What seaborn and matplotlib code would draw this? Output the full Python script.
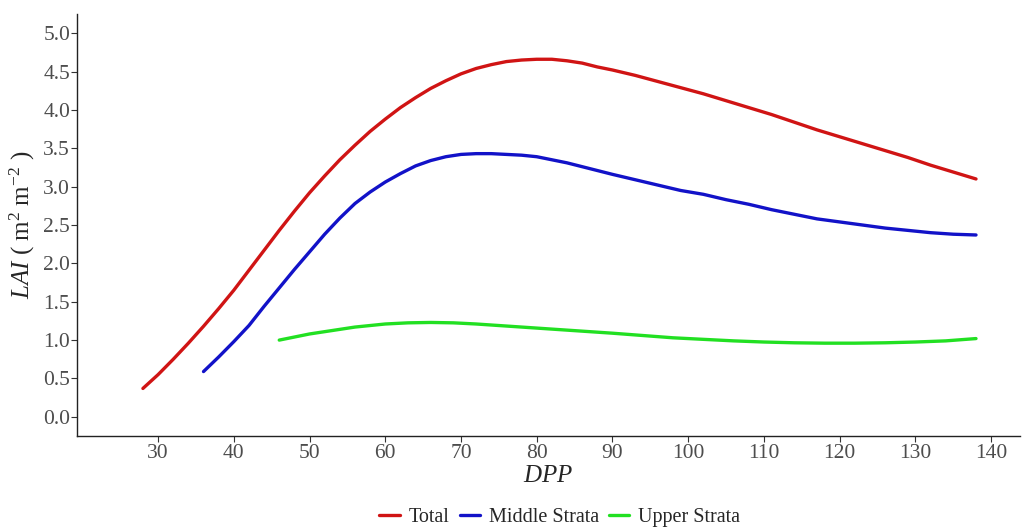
import matplotlib
matplotlib.use("Agg")
import matplotlib.pyplot as plt
import seaborn as sns
import pandas as pd

# Leaf area index (m2 m-2) by days post planting, per canopy layer
total_dpp = [28, 30, 32, 34, 36, 38, 40, 42, 44, 46, 48, 50, 52, 54, 56, 58,
             60, 62, 64, 66, 68, 70, 72, 74, 76, 78, 80, 82, 84, 86, 88, 90,
             93, 96, 99, 102, 105, 108, 111, 114, 117, 120, 123, 126, 129,
             132, 135, 138]
total_lai = [0.37, 0.55, 0.75, 0.96, 1.18, 1.41, 1.65, 1.91, 2.17, 2.43, 2.68,
             2.92, 3.14, 3.35, 3.54, 3.72, 3.88, 4.03, 4.16, 4.28, 4.38, 4.47,
             4.54, 4.59, 4.63, 4.65, 4.66, 4.66, 4.64, 4.61, 4.56, 4.52, 4.45,
             4.37, 4.29, 4.21, 4.12, 4.03, 3.94, 3.84, 3.74, 3.65, 3.56, 3.47,
             3.38, 3.28, 3.19, 3.10]

middle_dpp = [36, 38, 40, 42, 44, 46, 48, 50, 52, 54, 56, 58, 60, 62, 64, 66,
              68, 70, 72, 74, 76, 78, 80, 82, 84, 86, 88, 90, 93, 96, 99, 102,
              105, 108, 111, 114, 117, 120, 123, 126, 129, 132, 135, 138]
middle_lai = [0.59, 0.78, 0.98, 1.19, 1.44, 1.68, 1.92, 2.15, 2.38, 2.59, 2.78,
              2.93, 3.06, 3.17, 3.27, 3.34, 3.39, 3.42, 3.43, 3.43, 3.42, 3.41,
              3.39, 3.35, 3.31, 3.26, 3.21, 3.16, 3.09, 3.02, 2.95, 2.90, 2.83,
              2.77, 2.70, 2.64, 2.58, 2.54, 2.50, 2.46, 2.43, 2.40, 2.38, 2.37]

upper_dpp = [46, 48, 50, 52, 54, 56, 58, 60, 63, 66, 69, 72, 75, 78, 81, 84,
             87, 90, 94, 98, 102, 106, 110, 114, 118, 122, 126, 130, 134, 138]
upper_lai = [1.00, 1.04, 1.08, 1.11, 1.14, 1.17, 1.19, 1.21, 1.225, 1.23, 1.225,
             1.21, 1.19, 1.17, 1.15, 1.13, 1.11, 1.09, 1.06, 1.03, 1.01, 0.99,
             0.975, 0.965, 0.96, 0.96, 0.965, 0.975, 0.99, 1.02]

series_names = ["Total", "Middle Strata", "Upper Strata"]
series_colors = ["#D01414", "#1212C8", "#22E022"]

x_ticks = [30, 40, 50, 60, 70, 80, 90, 100, 110, 120, 130, 140]
y_ticks = [0.0, 0.5, 1.0, 1.5, 2.0, 2.5, 3.0, 3.5, 4.0, 4.5, 5.0]

frames = []
for name, xs, ys in zip(series_names,
                        [total_dpp, middle_dpp, upper_dpp],
                        [total_lai, middle_lai, upper_lai]):
    frames.append(pd.DataFrame({"DPP": xs, "LAI": ys, "Layer": name}))
df = pd.concat(frames, ignore_index=True)

sns.set_theme(style="ticks")
plt.rcParams["font.family"] = ["Liberation Serif", "DejaVu Serif"]
plt.rcParams["mathtext.fontset"] = "custom"
plt.rcParams["mathtext.rm"] = "Liberation Serif"
plt.rcParams["mathtext.it"] = "Liberation Serif:italic"

fig = plt.figure(figsize=(10.23, 5.28), dpi=100)
ax = fig.add_axes([0.0753, 0.1742, 0.9217, 0.7993])

sns.lineplot(data=df, x="DPP", y="LAI", hue="Layer", hue_order=series_names,
             palette=dict(zip(series_names, series_colors)), sort=False,
             estimator=None, linewidth=2.4, ax=ax, legend=True)

ax.set_xlim(19.3, 143.8)
ax.set_ylim(-0.25, 5.25)
ax.set_xticks(x_ticks)
ax.set_xticklabels([str(v) for v in x_ticks])
ax.set_yticks(y_ticks)
ax.set_yticklabels([f"{v:.1f}" for v in y_ticks])

ax.tick_params(axis="both", labelsize=15.5, labelcolor="#4D4D4D", color="#333333",
               length=4, width=0.8)
ax.tick_params(axis="x", pad=2)
ax.tick_params(axis="y", pad=1)
for side in ["top", "right"]:
    ax.spines[side].set_visible(False)
for side in ["left", "bottom"]:
    ax.spines[side].set_color("#222222")
    ax.spines[side].set_linewidth(1.0)

ax.set_xlabel(r"$DPP$", fontsize=18, labelpad=1)
ax.set_ylabel(r"$LAI$ ( m$^{2}$ m$^{-2}$ )", fontsize=18)
ax.yaxis.set_label_coords(-0.042, 0.5)

handles, labels = ax.get_legend_handles_labels()
ax.legend(handles, labels, loc="center", bbox_to_anchor=(0.512, -0.192),
          ncol=3, frameon=False, fontsize=14.5, handlelength=1.0,
          handletextpad=0.45, columnspacing=0.5, title=None)

fig.savefig("out.png", dpi=100)
